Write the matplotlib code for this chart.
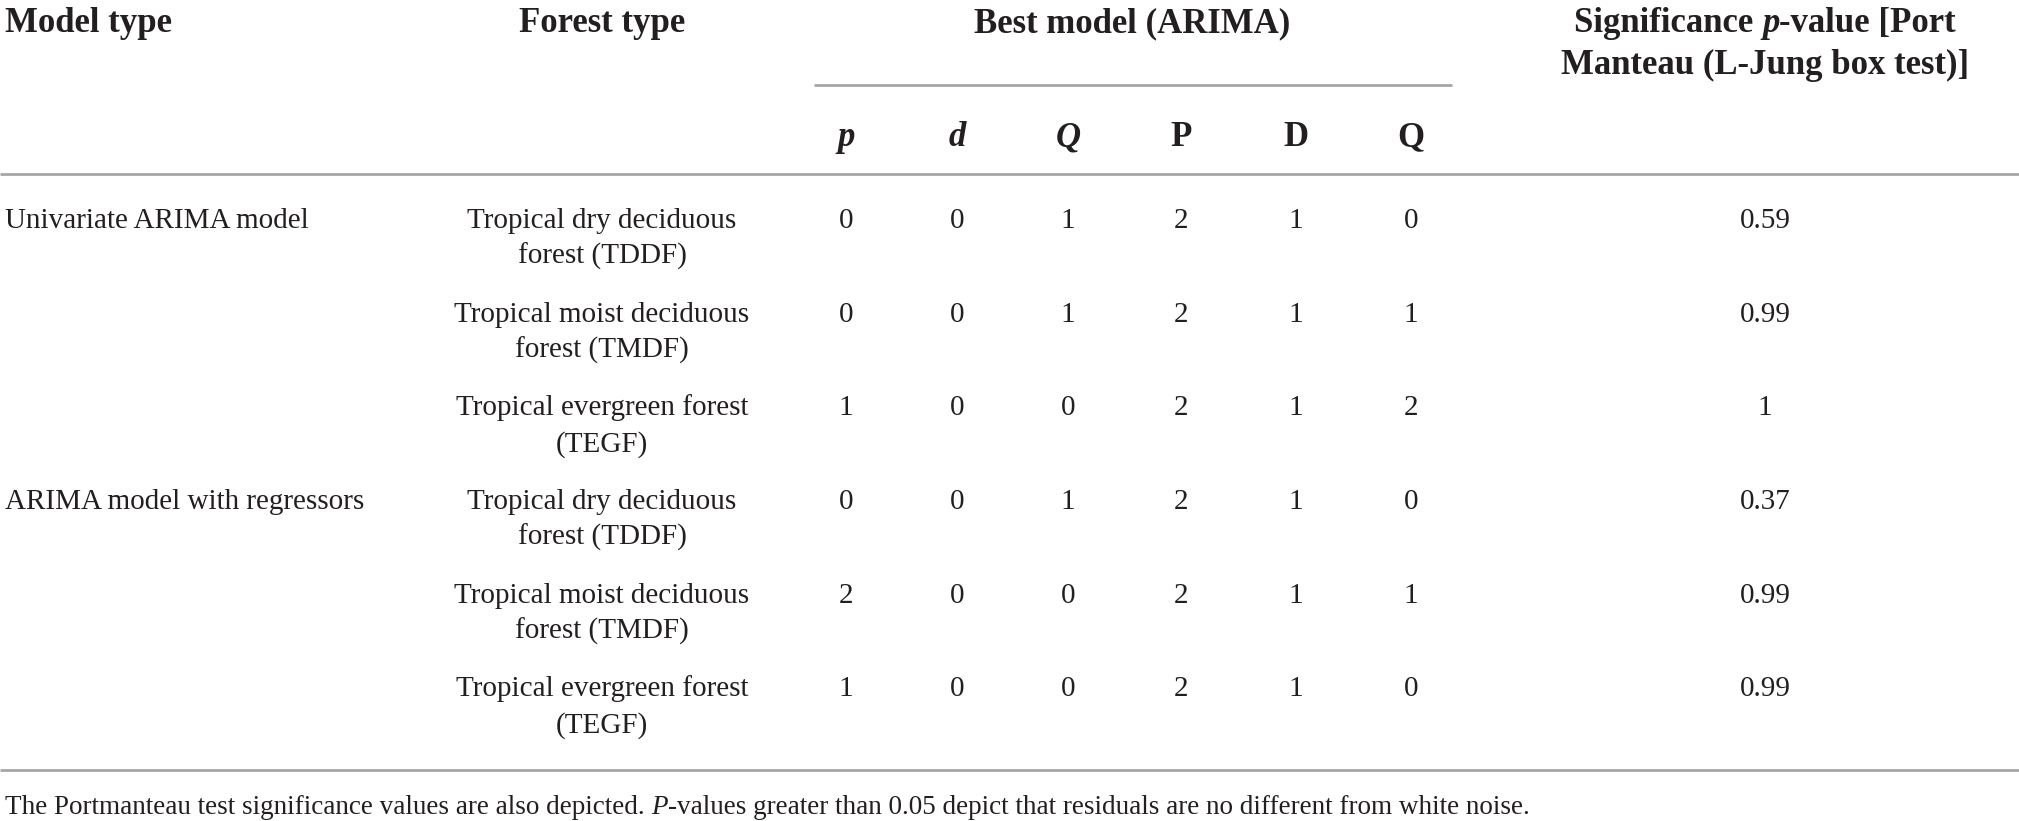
import matplotlib
matplotlib.use("Agg")
import matplotlib.pyplot as plt

# ---- data ----
model_types = ["Univariate ARIMA model", "ARIMA model with regressors"]
forest_types = [
    ("Tropical dry deciduous", "forest (TDDF)"),
    ("Tropical moist deciduous", "forest (TMDF)"),
    ("Tropical evergreen forest", "(TEGF)"),
]
param_labels = ["p", "d", "Q", "P", "D", "Q"]
param_italic = [True, True, True, False, False, False]
params = [
    [0, 0, 1, 2, 1, 0],
    [0, 0, 1, 2, 1, 1],
    [1, 0, 0, 2, 1, 2],
    [0, 0, 1, 2, 1, 0],
    [2, 0, 0, 2, 1, 1],
    [1, 0, 0, 2, 1, 0],
]
p_values = ["0.59", "0.99", "1", "0.37", "0.99", "0.99"]
sig_header_line1 = [("Significance ", "normal"), ("p", "italic"), ("-value [Port", "normal")]
sig_header_line2 = "Manteau (L-Jung box test)]"
footnote_parts = [
    ("The Portmanteau test significance values are also depicted. ", "normal"),
    ("P", "italic"),
    ("-values greater than 0.05 depict that residuals are no different from white noise.", "normal"),
]

# ---- layout ----
W, H = 2019, 821
fig = plt.figure(figsize=(W / 100, H / 100), dpi=100)
ax = fig.add_axes([0, 0, 1, 1])
ax.set_xlim(0, W)
ax.set_ylim(H, 0)
ax.axis("off")

FONT = "Liberation Serif"
TXT = "#231f20"
LINE = "#a6a6a6"
HS = 25      # header font size
BS = 21      # body font size
FS = 19.5    # footnote size

x_model = 5
x_forest = 602
x_params = [846, 957, 1068, 1181, 1296, 1411]
x_sig = 1765

renderer = fig.canvas.get_renderer()


def rich_text(parts, x, y, size, weight, align):
    """Draw consecutive text runs with different styles on one baseline."""
    arts = []
    widths = []
    for s, st in parts:
        t = ax.text(0, y, s, fontsize=size, fontweight=weight, family=FONT, color=TXT,
                    ha="left", va="baseline", style=st)
        arts.append(t)
        widths.append(t.get_window_extent(renderer).width)
    total = sum(widths)
    start = x - total / 2 if align == "center" else x
    cur = start
    for t, w in zip(arts, widths):
        t.set_x(cur)
        cur += w


# header
ax.text(x_model, 32, "Model type", fontsize=HS, fontweight="bold", family=FONT,
        color=TXT, ha="left", va="baseline")
ax.text(x_forest, 32, "Forest type", fontsize=HS, fontweight="bold", family=FONT,
        color=TXT, ha="center", va="baseline")
ax.text(1132, 32, "Best model (ARIMA)", fontsize=HS, fontweight="bold", family=FONT,
        color=TXT, ha="center", va="baseline")
rich_text(sig_header_line1, x_sig, 32, HS, "bold", "center")
ax.text(x_sig, 74, sig_header_line2, fontsize=HS, fontweight="bold",
        family=FONT, color=TXT, ha="center", va="baseline")

ax.plot([814, 1452], [85, 85], color=LINE, lw=2, solid_capstyle="butt")
for x, lab, it in zip(x_params, param_labels, param_italic):
    ax.text(x, 146, lab, fontsize=HS, fontweight="bold", family=FONT, color=TXT,
            ha="center", va="baseline", style="italic" if it else "normal")
ax.plot([0, W], [174, 174], color=LINE, lw=2, solid_capstyle="butt")

# body
y0 = 228
dy = 93.7
line2 = 36
for i in range(6):
    y = y0 + dy * i
    if i % 3 == 0:
        ax.text(x_model, y, model_types[i // 3], fontsize=BS, family=FONT, color=TXT,
                ha="left", va="baseline")
    f1, f2 = forest_types[i % 3]
    ax.text(x_forest, y, f1, fontsize=BS, family=FONT, color=TXT, ha="center", va="baseline")
    ax.text(x_forest, y + line2, f2, fontsize=BS, family=FONT, color=TXT, ha="center", va="baseline")
    for x, v in zip(x_params, params[i]):
        ax.text(x, y, str(v), fontsize=BS, family=FONT, color=TXT, ha="center", va="baseline")
    ax.text(x_sig, y, p_values[i], fontsize=BS, family=FONT, color=TXT, ha="center", va="baseline")

ax.plot([0, W], [770, 770], color=LINE, lw=2, solid_capstyle="butt")

# footnote
rich_text(footnote_parts, 5, 814, FS, "normal", "left")

fig.savefig("out.png", dpi=100, facecolor="white")
